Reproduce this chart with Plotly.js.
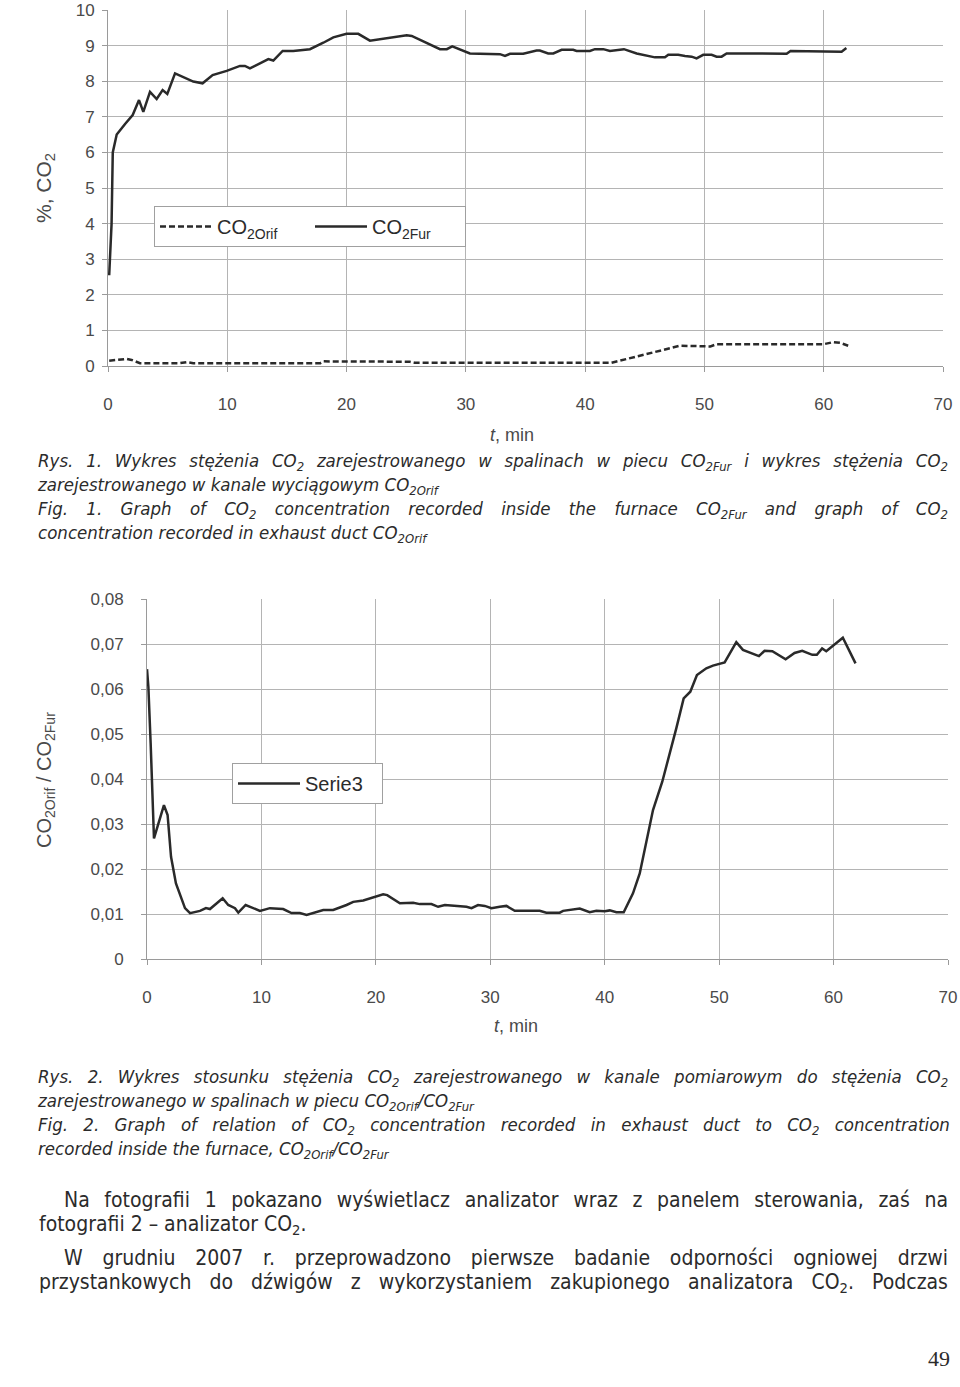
<!DOCTYPE html>
<html>
<head>
<meta charset="utf-8">
<script src="https://cdn.plot.ly/plotly-3.0.1.min.js"></script>
<style>html,body{margin:0;padding:0;background:#fff;}#chart{width:960px;height:1387px;}</style>
</head>
<body>
<div id="chart"></div>
<script>
// ---- Data: Fig. 1 (CO2 concentration, %) ----
const tFur = [0.1,0.3,0.4,0.73,1.43,2.07,2.6,2.96,3.52,4.08,4.58,4.97,5.62,7.15,7.93,8.77,9.95,11.06,11.48,11.9,12.74,13.44,13.86,14.64,15.53,16.93,18.05,18.89,20.0,20.98,21.96,23.36,25.04,25.46,26.72,27.83,28.4,28.86,30.34,32.0,32.86,33.28,33.7,34.81,35.93,36.2,36.9,37.33,38.03,39.0,39.28,40.4,40.82,41.52,42.08,43.25,44.32,45.85,46.69,46.97,47.8,48.37,48.93,49.34,49.9,50.6,51.02,51.44,51.86,54.09,56.89,57.22,59.68,61.5,61.9];
const co2Fur = [2.55,4.0,6.0,6.5,6.8,7.05,7.47,7.14,7.7,7.5,7.75,7.64,8.22,7.99,7.94,8.17,8.29,8.43,8.43,8.36,8.5,8.62,8.58,8.85,8.85,8.9,9.08,9.23,9.33,9.33,9.14,9.2,9.29,9.27,9.08,8.9,8.9,8.98,8.78,8.78,8.76,8.71,8.77,8.77,8.86,8.86,8.78,8.78,8.88,8.88,8.85,8.85,8.9,8.9,8.85,8.9,8.78,8.67,8.67,8.74,8.74,8.71,8.69,8.64,8.74,8.74,8.69,8.69,8.78,8.78,8.77,8.85,8.85,8.83,8.93];
const tOrif = [0.1,1.56,1.98,2.68,6.0,6.6,7.15,17.8,18.05,25.3,25.7,42.2,47.95,50.5,51.0,59.96,60.8,61.4,62.05];
const co2Orif = [0.15,0.2,0.17,0.08,0.08,0.11,0.08,0.08,0.13,0.12,0.09,0.09,0.57,0.55,0.61,0.61,0.67,0.65,0.57];

// ---- Data: Fig. 2 (ratio CO2Orif / CO2Fur) ----
const tRatio = [0,0.12,0.32,0.61,1.48,1.8,2.1,2.53,3.32,3.76,4.63,5.15,5.5,6.61,7.1,7.69,7.98,8.62,9.87,10.74,11.9,12.63,13.36,13.95,15.4,16.27,17.44,18.02,18.9,20.64,20.99,22.1,23.26,23.84,24.86,25.44,26.03,26.75,27.92,28.36,28.93,29.52,30.1,30.83,31.41,32.14,34.32,34.9,36.07,36.36,37.82,38.69,39.27,40.0,40.44,41.02,41.66,42.47,43.06,44.22,45.03,46.26,46.9,47.48,48.06,48.88,49.46,50.48,51.5,52.08,53.48,53.97,54.65,55.81,56.59,57.26,58.14,58.54,59.0,59.36,60.81,61.92];
const ratio = [0.0644,0.0605,0.0479,0.0268,0.0342,0.032,0.0227,0.0168,0.0113,0.0102,0.0107,0.0113,0.0111,0.0135,0.012,0.0113,0.0103,0.012,0.0107,0.0113,0.0111,0.0102,0.0102,0.0098,0.0109,0.0109,0.012,0.0127,0.013,0.0144,0.0142,0.0124,0.0125,0.0122,0.0122,0.0116,0.012,0.0118,0.0116,0.0113,0.012,0.0118,0.0113,0.0116,0.0118,0.0107,0.0107,0.0103,0.0103,0.0107,0.0112,0.0104,0.0107,0.0106,0.0108,0.0104,0.0104,0.0146,0.019,0.0331,0.0394,0.0513,0.0579,0.0594,0.0631,0.0646,0.0652,0.0659,0.0704,0.0687,0.0673,0.0685,0.0684,0.0666,0.068,0.0685,0.0676,0.0676,0.069,0.0684,0.0714,0.0657];

// ---- Tick labels ----
const xTicks = [0,10,20,30,40,50,60,70];
const y1Ticks = [0,1,2,3,4,5,6,7,8,9,10];
const y2Ticks = [0,0.01,0.02,0.03,0.04,0.05,0.06,0.07,0.08];
const y2TickText = ['0','0,01','0,02','0,03','0,04','0,05','0,06','0,07','0,08'];

// ---- Series names / texts ----
const nameOrif = 'CO<sub>2Orif</sub>';
const nameFur = 'CO<sub>2Fur</sub>';
const nameRatio = 'Serie3';
const y1Title = '%, CO<sub>2</sub>';
const y2Title = 'CO<sub>2Orif</sub> / CO<sub>2Fur</sub>';
const xTitle = '<i>t</i>, min';
const caption1 = [
  'Rys. 1. Wykres stężenia CO<sub>2</sub> zarejestrowanego w spalinach w piecu CO<sub>2Fur</sub> i wykres stężenia CO<sub>2</sub>',
  'zarejestrowanego w kanale wyciągowym CO<sub>2Orif</sub>',
  'Fig. 1. Graph of CO<sub>2</sub> concentration recorded inside the furnace CO<sub>2Fur</sub> and graph of CO<sub>2</sub>',
  'concentration recorded in exhaust duct CO<sub>2Orif</sub>'
];
const caption2 = [
  'Rys. 2. Wykres stosunku stężenia CO<sub>2</sub> zarejestrowanego w kanale pomiarowym do stężenia CO<sub>2</sub>',
  'zarejestrowanego w spalinach w piecu CO<sub>2Orif</sub>/CO<sub>2Fur</sub>',
  'Fig. 2. Graph of relation of CO<sub>2</sub> concentration recorded in exhaust duct to CO<sub>2</sub> concentration',
  'recorded inside the furnace, CO<sub>2Orif</sub>/CO<sub>2Fur</sub>'
];
const body = [
  'Na fotografii 1 pokazano wyświetlacz analizator wraz z panelem sterowania, zaś na',
  'fotografii 2 – analizator CO<sub>2</sub>.',
  'W grudniu 2007 r. przeprowadzono pierwsze badanie odporności ogniowej drzwi',
  'przystankowych do dźwigów z wykorzystaniem zakupionego analizatora CO<sub>2</sub>. Podczas'
];
const pageNumber = '49';

// ---- Layout helpers (pixel -> paper) ----
const W = 960, H = 1387;
const px = v => v / W;
const py = v => 1 - v / H;

const ink = '#2b2b2b';
const tickInk = '#4a4a4a';
const grid = '#b4b4b4';
const narrow = 'Liberation Sans Narrow, DejaVu Sans Condensed, Arial Narrow, sans-serif';
const sans = 'Liberation Sans, Arial, sans-serif';

const traces = [
  {x: tOrif, y: co2Orif, name: nameOrif, type: 'scatter', mode: 'lines', xaxis: 'x', yaxis: 'y',
   line: {color: '#2a2a2a', width: 2.5, dash: '6px,3px'}, legend: 'legend'},
  {x: tFur, y: co2Fur, name: nameFur, type: 'scatter', mode: 'lines', xaxis: 'x', yaxis: 'y',
   line: {color: '#2a2a2a', width: 2.5}, legend: 'legend'},
  {x: tRatio, y: ratio, name: nameRatio, type: 'scatter', mode: 'lines', xaxis: 'x2', yaxis: 'y2',
   line: {color: '#2a2a2a', width: 2.5}, legend: 'legend2'}
];

const axCommon = {
  showgrid: true, gridcolor: grid, gridwidth: 1, zeroline: false,
  showline: true, linecolor: '#9a9a9a', linewidth: 1,
  ticks: 'outside', ticklen: 5, tickcolor: '#9a9a9a',
  tickfont: {family: sans, size: 17, color: tickInk}, fixedrange: true
};

const ann = [];
const justify = {}; // annotation index -> per-line right edge (0 = ragged)
function addBlock(lines, yCenter, xLeft, font, italic, rights) {
  justify[ann.length] = rights;
  const txt = lines.map(t => italic ? '<i>' + t + '</i>' : t).join('<br>');
  ann.push({text: txt, xref: 'paper', yref: 'paper', x: px(xLeft), y: py(yCenter),
    xanchor: 'left', yanchor: 'middle', align: 'left', showarrow: false, font: font});
}
const capFont = {family: narrow, size: 18.5, color: ink};
const bodyFont = {family: narrow, size: 21, color: ink};
addBlock(caption1, 498, 35, capFont, true, [948, 0, 948, 0]);
addBlock(caption2, 1114, 35, capFont, true, [948, 0, 950, 0]);
addBlock([body[0]], 1200, 62, bodyFont, false, [948]);
addBlock([body[1]], 1225, 37, bodyFont, false, [0]);
addBlock([body[2]], 1258, 62, bodyFont, false, [948]);
addBlock([body[3]], 1283, 37, bodyFont, false, [948]);

ann.push({text: pageNumber, xref: 'paper', yref: 'paper', x: px(952), y: py(1358), xanchor: 'right', yanchor: 'middle',
  showarrow: false, font: {family: 'Liberation Serif, serif', size: 22, color: ink}});
ann.push({text: y1Title, xref: 'paper', yref: 'paper', x: px(45), y: py(188), xanchor: 'center', yanchor: 'middle',
  textangle: -90, showarrow: false, font: {family: sans, size: 21, color: tickInk}});
ann.push({text: xTitle, xref: 'paper', yref: 'paper', x: px(512), y: py(435), xanchor: 'center', yanchor: 'middle',
  showarrow: false, font: {family: sans, size: 18, color: tickInk}});
ann.push({text: y2Title, xref: 'paper', yref: 'paper', x: px(45), y: py(780), xanchor: 'center', yanchor: 'middle',
  textangle: -90, showarrow: false, font: {family: sans, size: 20, color: tickInk}});
ann.push({text: xTitle, xref: 'paper', yref: 'paper', x: px(516), y: py(1026), xanchor: 'center', yanchor: 'middle',
  showarrow: false, font: {family: sans, size: 18, color: tickInk}});

const layout = {
  width: W, height: H,
  margin: {l: 0, r: 0, t: 0, b: 0},
  paper_bgcolor: '#fff', plot_bgcolor: '#fff',
  showlegend: true,
  xaxis: Object.assign({}, axCommon, {domain: [px(108), px(943)], range: [0, 70], tickvals: xTicks,
    anchor: 'y', ticklabelstandoff: 18}),
  yaxis: Object.assign({}, axCommon, {domain: [py(366), py(10)], range: [0, 10], tickvals: y1Ticks,
    anchor: 'x', ticklabelstandoff: 4}),
  xaxis2: Object.assign({}, axCommon, {domain: [px(147), px(948)], range: [0, 70], tickvals: xTicks,
    anchor: 'y2', ticklabelstandoff: 18}),
  yaxis2: Object.assign({}, axCommon, {domain: [py(959), py(599)], range: [0, 0.08], tickvals: y2Ticks,
    ticktext: y2TickText, anchor: 'x2', ticklabelstandoff: 14}),
  legend: {orientation: 'h', x: px(154), y: py(206), xanchor: 'left', yanchor: 'top',
    bordercolor: '#a0a0a0', borderwidth: 1, bgcolor: '#fff',
    font: {family: sans, size: 20, color: ink}, entrywidth: 88, entrywidthmode: 'pixels', itemwidth: 52},
  legend2: {orientation: 'h', x: px(232), y: py(763), xanchor: 'left', yanchor: 'top',
    bordercolor: '#a0a0a0', borderwidth: 1, bgcolor: '#fff',
    font: {family: sans, size: 20, color: ink}, entrywidth: 72, entrywidthmode: 'pixels', itemwidth: 62},
  annotations: ann
};

function justifyPiece(el, right) {
  const r0 = el.getBoundingClientRect();
  const spaces = (el.textContent.match(/ /g) || []).length;
  if (!spaces) return;
  const extra = (right - r0.right) / spaces;
  if (extra <= 0) return;
  el.style.wordSpacing = extra.toFixed(2) + 'px';
  const r1 = el.getBoundingClientRect();
  const shift = r0.left - r1.left;
  if (Math.abs(shift) < 0.01) return;
  const targets = el.hasAttribute('x') ? [el] : [];
  el.querySelectorAll('tspan[x]').forEach(ts => targets.push(ts));
  targets.forEach(t => t.setAttribute('x', parseFloat(t.getAttribute('x')) + shift));
}

Plotly.newPlot('chart', traces, layout, {staticPlot: true, displayModeBar: false}).then(gd => {
  const nodes = gd.querySelectorAll('.annotation');
  Object.keys(justify).forEach(k => {
    const g = nodes[+k];
    if (!g) return;
    const txt = g.querySelector('text.annotation-text');
    if (!txt) return;
    const rights = justify[k];
    const lines = txt.querySelectorAll('tspan.line');
    if (lines.length) {
      lines.forEach((ln, i) => { if (rights[i]) justifyPiece(ln, rights[i]); });
    } else if (rights[0]) {
      justifyPiece(txt, rights[0]);
    }
  });
});
</script>
</body>
</html>
